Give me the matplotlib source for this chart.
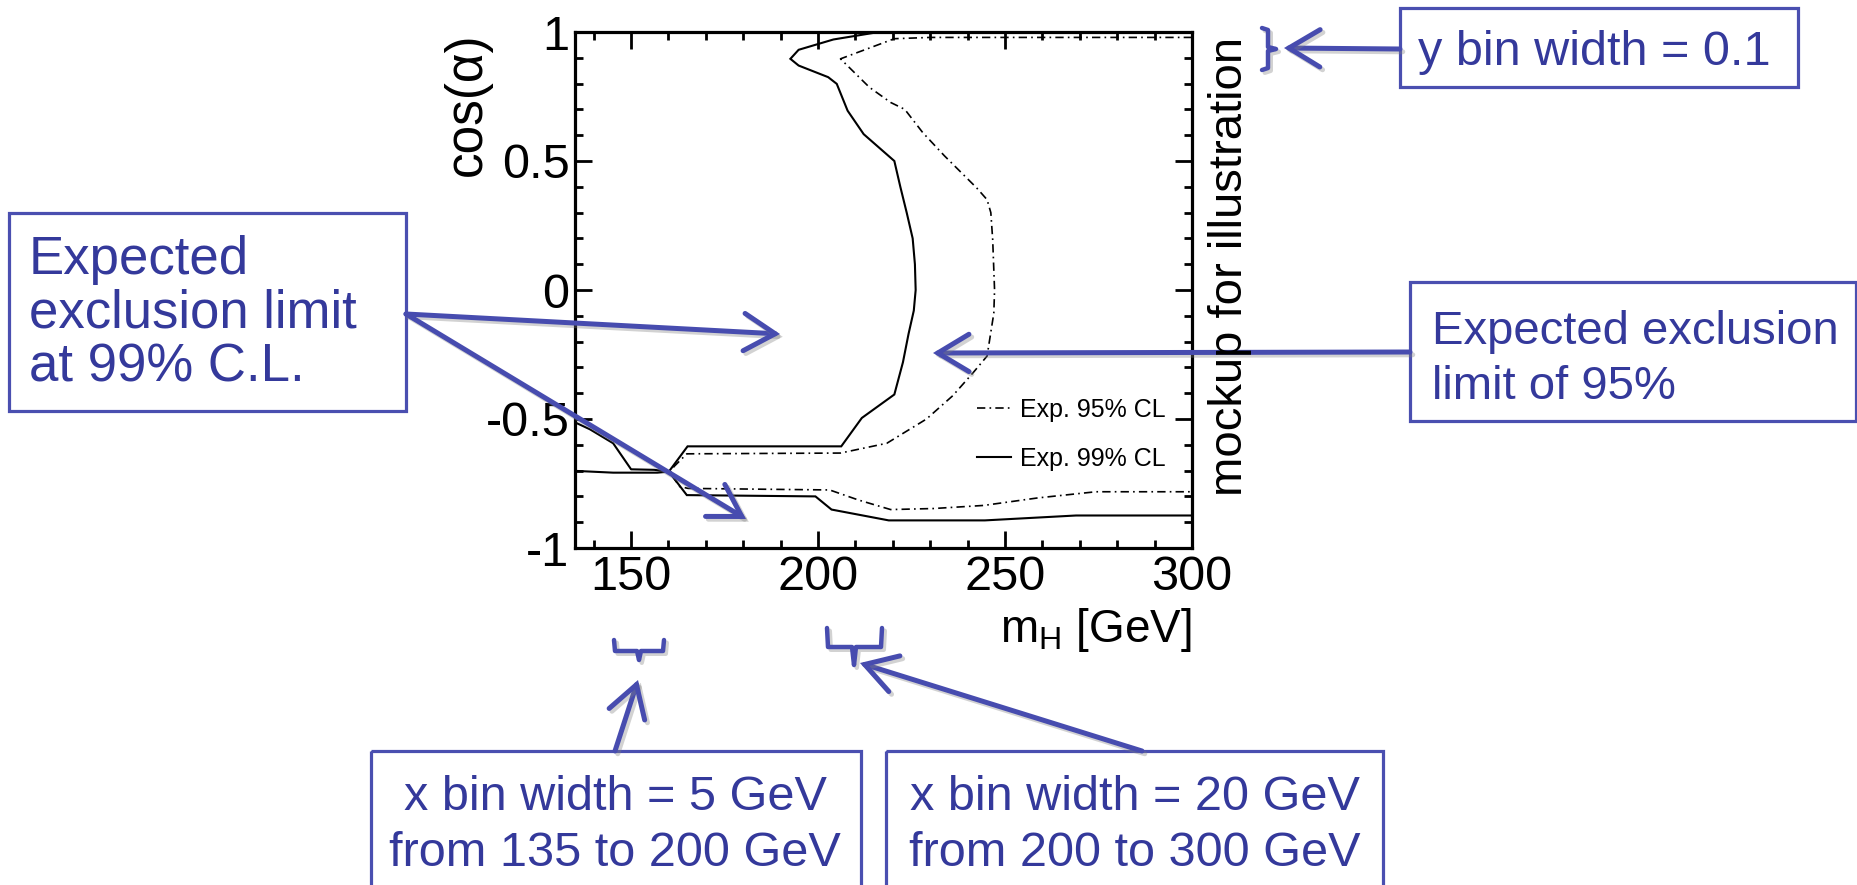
import matplotlib
matplotlib.use('Agg')
import matplotlib.pyplot as plt
from matplotlib.ticker import MultipleLocator, FuncFormatter
from matplotlib.patches import Rectangle, FancyArrowPatch
import matplotlib.patheffects as pe

# ---------------- data ----------------
# Expected 99% CL contour (solid), main branch
cl99_x = [214.6, 204.1, 194.8, 192.6, 194.8, 202.7, 205.0, 207.9, 212.2, 220.4,
          222.0, 223.7, 225.3, 225.9, 226.1, 225.6, 224.2, 222.7, 220.4, 211.7,
          206.2, 165.1, 160.1, 164.9, 199.3, 203.6, 218.9, 244.6, 269.0, 300.0]
cl99_y = [0.996, 0.971, 0.931, 0.896, 0.870, 0.825, 0.799, 0.695, 0.604, 0.5,
          0.4, 0.3, 0.2, 0.1, 0.0, -0.08, -0.17, -0.28, -0.405, -0.496,
          -0.606, -0.606, -0.704, -0.795, -0.80, -0.851, -0.893, -0.893, -0.874, -0.874]
# Expected 99% CL contour, small pieces on the left edge
cl99_left_a_x = [135.0, 139.0, 145.2, 150.0, 156.2, 160.1]
cl99_left_a_y = [-0.513, -0.54, -0.594, -0.695, -0.697, -0.704]
cl99_left_b_x = [135.0, 145.2, 157.0, 160.1]
cl99_left_b_y = [-0.701, -0.708, -0.708, -0.704]
# Expected 95% CL contour (dash-dot)
cl95_x = [300.0, 230.0, 220.4, 206.0, 213.7, 219.4, 223.2, 228.0, 233.8, 242.4,
          245.2, 246.2, 246.7, 247.2, 247.0, 245.2, 241.5, 236.0, 229.0, 218.4,
          206.0, 164.9, 161.5, 160.4, 163.0, 165.3, 203.1, 210.8, 219.4, 230.9,
          244.3, 258.7, 274.3, 300.0]
cl95_y = [0.979, 0.979, 0.974, 0.896, 0.786, 0.727, 0.70, 0.61, 0.52, 0.396,
          0.35, 0.3, 0.195, 0.0, -0.09, -0.256, -0.32, -0.41, -0.50, -0.594,
          -0.632, -0.635, -0.684, -0.708, -0.762, -0.769, -0.775, -0.814, -0.851, -0.847,
          -0.835, -0.806, -0.782, -0.782]

legend_labels = ['Exp. 95% CL', 'Exp. 99% CL']
x_major_ticks = [150, 200, 250, 300]
y_major_ticks = [-1, -0.5, 0, 0.5, 1]

# ---------------- styling ----------------
plt.rcParams['font.family'] = ['Liberation Sans', 'DejaVu Sans']
plt.rcParams['mathtext.fontset'] = 'custom'
plt.rcParams['mathtext.rm'] = 'Liberation Sans'
plt.rcParams['mathtext.it'] = 'Liberation Sans:italic'
plt.rcParams['axes.unicode_minus'] = False

BOX = '#4a4fb0'
TXT = '#34399b'
ARR = '#474caf'

W, H = 1858, 885
fig = plt.figure(figsize=(W / 100, H / 100), dpi=100)
L, R, T, B = 575, 1192, 32, 548
ax = fig.add_axes([L / W, 1 - B / H, (R - L) / W, (B - T) / H])

dashdot = (0, (5, 2.5, 1, 2.5))
h99, = ax.plot(cl99_x, cl99_y, color='black', lw=1.5, solid_joinstyle='miter')
ax.plot(cl99_left_a_x, cl99_left_a_y, color='black', lw=1.5)
ax.plot(cl99_left_b_x, cl99_left_b_y, color='black', lw=1.5)
h95, = ax.plot(cl95_x, cl95_y, color='black', lw=1.2, linestyle=dashdot)

ax.set_xlim(135, 300)
ax.set_ylim(-1, 1)
ax.set_xticks(x_major_ticks)
ax.set_yticks(y_major_ticks)
ax.xaxis.set_minor_locator(MultipleLocator(10))
ax.yaxis.set_minor_locator(MultipleLocator(0.1))
fmt = FuncFormatter(lambda v, p: f'{v:g}')
ax.xaxis.set_major_formatter(fmt)
ax.yaxis.set_major_formatter(fmt)
ax.tick_params(which='major', direction='in', length=12.5, width=2.0,
               top=True, right=True, labelsize=35)
ax.tick_params(which='minor', direction='in', length=6, width=2.0,
               top=True, right=True)
ax.tick_params(axis='x', which='major', pad=5)
ax.tick_params(axis='y', which='major', pad=4)
for s in ax.spines.values():
    s.set_linewidth(2.3)

ax.legend([h95, h99], legend_labels, loc='center left',
          bbox_to_anchor=(977 / W, 1 - 434.5 / H), bbox_transform=fig.transFigure,
          frameon=False, fontsize=18, handlelength=34 / 25, handletextpad=9 / 25,
          labelspacing=1.0, borderpad=0, borderaxespad=0)

# ---------------- overlay in pixel coordinates ----------------
axo = fig.add_axes([0, 0, 1, 1], zorder=5)
axo.set_xlim(0, W)
axo.set_ylim(H, 0)
axo.axis('off')

# axis titles
axo.text(467, 104, 'cos(α)', rotation=90, ha='center', va='center', fontsize=37)
axo.text(1192, 630, r'm$_{\mathrm{H}}$ [GeV]', ha='right', va='center', fontsize=33)
axo.text(1230, 266, 'mockup for illustration', rotation=90, ha='center',
         va='center', fontsize=34)

def box(x0, y0, x1, y1):
    axo.add_patch(Rectangle((x0, y0), x1 - x0, y1 - y0, fill=False,
                            edgecolor=BOX, lw=2.3, clip_on=False))

shadow = [pe.SimpleLineShadow(offset=(2, -2), shadow_color='gray', alpha=0.35),
          pe.Normal()]

def arrow(p0, p1):
    a = FancyArrowPatch(p0, p1, arrowstyle='->,head_length=0.7,head_width=0.42',
                        mutation_scale=32, color=ARR, lw=3.6,
                        capstyle='round', joinstyle='miter', shrinkA=0, shrinkB=0,
                        path_effects=shadow)
    axo.add_patch(a)

def line(xs, ys):
    axo.plot(xs, ys, color=ARR, lw=3.2, solid_capstyle='round',
             solid_joinstyle='round', path_effects=shadow)

# y bin width box
box(1400, 8, 1798, 87)
axo.text(1418, 65, 'y bin width = 0.1', color=TXT, fontsize=35, va='baseline')
arrow((1400, 49), (1284, 48))
line([1262, 1268, 1268, 1276, 1268, 1268, 1262], [28, 30, 47, 49, 51, 68, 70])

# left box (99%)
box(9, 213, 406, 411)
for txt, yb in zip(['Expected', 'exclusion limit', 'at 99% C.L.'], [274, 327, 381]):
    axo.text(29, yb, txt, color=TXT, fontsize=38, va='baseline')
arrow((406, 314), (780, 334))
arrow((406, 314), (746, 519))

# right box (95%)
box(1410, 282, 1856, 421)
for txt, yb in zip(['Expected exclusion', 'limit of 95%'], [344, 399]):
    axo.text(1432, yb, txt, color=TXT, fontsize=34, va='baseline')
arrow((1410, 352), (933, 353))

# bottom boxes
box(371, 751, 861, 900)
axo.text(615, 810, 'x bin width = 5 GeV', color=TXT, fontsize=35, ha='center', va='baseline')
axo.text(615, 866, 'from 135 to 200 GeV', color=TXT, fontsize=35, ha='center', va='baseline')
box(886, 751, 1383, 900)
axo.text(1135, 810, 'x bin width = 20 GeV', color=TXT, fontsize=35, ha='center', va='baseline')
axo.text(1135, 866, 'from 200 to 300 GeV', color=TXT, fontsize=35, ha='center', va='baseline')
arrow((615, 751), (638, 680))
arrow((1142, 751), (860, 663))

# brackets under the x axis
line([614, 615, 637, 639, 641, 663, 664], [640, 651, 651, 660, 651, 651, 640])
line([827, 828, 852, 854, 856, 881, 882], [628, 647, 647, 665, 647, 647, 628])

fig.savefig('out.png', dpi=100)
